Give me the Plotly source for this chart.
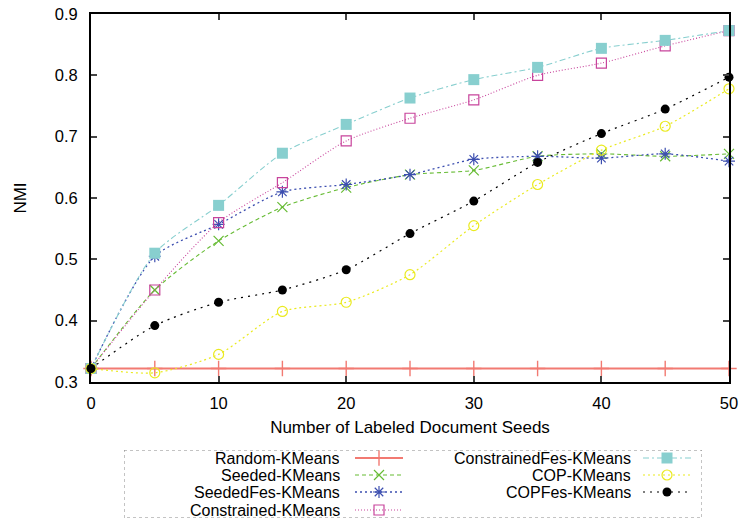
import plotly.graph_objects as go

seeds = [0, 5, 10, 15, 20, 25, 30, 35, 40, 45, 50]
random_km = [0.322] * 11
seeded_km = [0.322, 0.450, 0.530, 0.585, 0.617, 0.638, 0.645, 0.668, 0.672, 0.668, 0.672]
seededfes_km = [0.322, 0.505, 0.557, 0.610, 0.622, 0.638, 0.663, 0.668, 0.665, 0.672, 0.660]
constrained_km = [0.322, 0.450, 0.560, 0.625, 0.693, 0.730, 0.760, 0.800, 0.820, 0.848, 0.873]
constrainedfes_km = [0.322, 0.510, 0.588, 0.673, 0.720, 0.763, 0.793, 0.813, 0.844, 0.857, 0.873]
cop_km = [0.322, 0.315, 0.345, 0.415, 0.430, 0.475, 0.555, 0.622, 0.678, 0.717, 0.778]
copfes_km = [0.322, 0.392, 0.430, 0.450, 0.483, 0.542, 0.595, 0.658, 0.705, 0.745, 0.797]
x_ticks = [0, 10, 20, 30, 40, 50]
y_ticks = [0.3, 0.4, 0.5, 0.6, 0.7, 0.8, 0.9]

series = [
    dict(name="Random-KMeans", y=random_km, color="#f27a72", dash="solid", width=2.0,
         symbol="cross-thin-open", size=11, mline=1.4, shape="linear"),
    dict(name="Seeded-KMeans", y=seeded_km, color="#66bb33", dash="4px,3px", width=1.1,
         symbol="x-thin-open", size=10, mline=1.2, shape="spline"),
    dict(name="SeededFes-KMeans", y=seededfes_km, color="#3d4fb0", dash="2px,3px", width=1.3,
         symbol="asterisk-open", size=10, mline=1.2, shape="spline"),
    dict(name="Constrained-KMeans", y=constrained_km, color="#c8449c", dash="1px,2px", width=1.1,
         symbol="square-open", size=10, mline=1.2, shape="spline"),
    dict(name="ConstrainedFes-KMeans", y=constrainedfes_km, color="#88cfcf", dash="6px,3px,2px,3px", width=1.1,
         symbol="square", size=11, mline=0, shape="spline"),
    dict(name="COP-KMeans", y=cop_km, color="#eaea20", dash="2px,3px", width=1.2,
         symbol="circle-open", size=10, mline=1.2, shape="spline"),
    dict(name="COPFes-KMeans", y=copfes_km, color="#000000", dash="2px,5px", width=1.2,
         symbol="circle", size=9, mline=0, shape="spline"),
]

fig = go.Figure()
for s in series:
    fig.add_trace(go.Scatter(
        x=seeds, y=s["y"], name=s["name"], mode="lines+markers",
        line=dict(color=s["color"], dash=s["dash"], width=s["width"], shape=s["shape"], smoothing=0.7),
        marker=dict(symbol=s["symbol"], size=s["size"], color=s["color"],
                    line=dict(color=s["color"], width=s["mline"])),
        cliponaxis=False, showlegend=False, xaxis="x", yaxis="y",
    ))

# page geometry (pixels)
W, H = 740, 523
L, R, T = 91, 11, 14
AX_BOTTOM = 382
PW = W - L - R
PH = H - T

# custom legend (gnuplot-like: text right-aligned, sample to the right)
LX0, LX1, LY0, LY1 = 124, 702, 450, 518
rows = [458, 475, 492, 510]
col_pos = [(341, 355, 403), (632, 643, 691)]
layout_slots = [(0, 0), (0, 1), (0, 2), (0, 3), (1, 0), (1, 1), (1, 2)]
annotations = []
for s, (c, r) in zip(series, layout_slots):
    tx, l0, l1 = col_pos[c]
    yy = rows[r]
    fig.add_trace(go.Scatter(
        x=[l0, l1], y=[yy, yy], mode="lines",
        line=dict(color=s["color"], dash=s["dash"], width=s["width"]),
        showlegend=False, hoverinfo="skip", xaxis="x2", yaxis="y2", cliponaxis=False))
    fig.add_trace(go.Scatter(
        x=[(l0 + l1) / 2], y=[yy], mode="markers",
        marker=dict(symbol=s["symbol"], size=s["size"], color=s["color"],
                    line=dict(color=s["color"], width=s["mline"])),
        showlegend=False, hoverinfo="skip", xaxis="x2", yaxis="y2", cliponaxis=False))
    annotations.append(dict(x=tx, y=yy, xref="x2", yref="y2", text=s["name"], showarrow=False,
                            xanchor="right", yanchor="middle", height=16, borderpad=0,
                            font=dict(size=16, color="#000000", family="Liberation Sans, Arial")))

main_bottom = (H - AX_BOTTOM) / PH
fig.update_layout(
    width=W, height=H,
    margin=dict(l=L, r=R, t=T, b=0, autoexpand=False),
    paper_bgcolor="white", plot_bgcolor="rgba(0,0,0,0)",
    font=dict(family="Liberation Sans, Arial", size=16.5, color="#000000"),
    xaxis=dict(domain=[0, 1], range=[0, 50], tickvals=x_ticks, ticks="inside", ticklen=6,
               tickwidth=1.5, showline=True, linewidth=2, linecolor="black", mirror="ticks",
               showgrid=False, zeroline=False, anchor="y", ticklabelstandoff=5,
               title=dict(text="Number of Labeled Document Seeds", standoff=10,
                          font=dict(size=17))),
    yaxis=dict(domain=[main_bottom, 1], range=[0.3, 0.9], tickvals=y_ticks,
               tickformat=".1f", ticks="inside", ticklen=6, tickwidth=1.5, showline=True,
               linewidth=2, linecolor="black", mirror="ticks", showgrid=False, zeroline=False,
               anchor="x", ticklabelstandoff=8,
               title=dict(text="NMI", standoff=24, font=dict(size=17))),
    xaxis2=dict(domain=[(LX0 - L) / PW, (LX1 - L) / PW], range=[LX0, LX1], visible=False,
                fixedrange=True, anchor="y2"),
    yaxis2=dict(domain=[(H - LY1) / PH, (H - LY0) / PH], range=[LY1, LY0], visible=False,
                fixedrange=True, anchor="x2"),
    annotations=annotations,
    shapes=[dict(type="rect", xref="x2", yref="y2", x0=LX0, x1=LX1, y0=LY0, y1=LY1,
                 line=dict(color="#888888", width=1, dash="dot"), fillcolor="rgba(0,0,0,0)")],
)

fig.write_html("out.html")
